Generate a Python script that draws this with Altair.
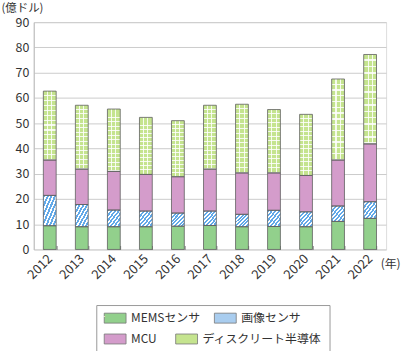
import altair as alt
import pandas as pd

years = ["2012", "2013", "2014", "2015", "2016", "2017", "2018", "2019", "2020", "2021", "2022"]
series = ["MEMSセンサ", "画像センサ", "MCU", "ディスクリート半導体"]
mems = [9.4, 9.0, 9.0, 9.0, 9.2, 9.5, 9.0, 9.1, 9.0, 11.1, 12.3]
image = [12.0, 8.8, 6.6, 6.2, 5.2, 5.7, 4.9, 6.4, 5.9, 6.1, 6.6]
mcu = [14.0, 14.0, 15.3, 14.5, 14.4, 16.6, 16.4, 14.8, 14.4, 18.2, 22.9]
discrete = [27.3, 25.3, 24.7, 22.6, 22.2, 25.3, 27.2, 25.1, 24.2, 32.1, 35.4]
y_ticks = [0, 10, 20, 30, 40, 50, 60, 70, 80, 90]
colors = ["#92d08c", "#a9cdef", "#d49ccb", "#c5e48f"]

rows = []
for i, yr in enumerate(years):
    for k, (name, vals) in enumerate(zip(series, [mems, image, mcu, discrete])):
        rows.append({"year": yr, "series": name, "order": k, "value": vals[i]})
df = pd.DataFrame(rows)

FONT = "Noto Sans CJK JP"
TXT = "#333333"

def stripes(col_a, col_b, n, frac):
    st = []
    for k in range(n):
        a = k / n
        b = (k + frac) / n
        c = (k + 1) / n
        st += [alt.GradientStop(color=col_a, offset=a), alt.GradientStop(color=col_a, offset=b),
               alt.GradientStop(color=col_b, offset=b), alt.GradientStop(color=col_b, offset=c)]
    return st

diag_blue = alt.LinearGradient(gradient="linear", stops=stripes("#62a9e8", "#ffffff", 7, 0.55),
                               x1=0, y1=0, x2=1, y2=1)
clear = "rgba(255,255,255,0)"
white = "rgba(255,255,255,0.85)"
hlines = alt.LinearGradient(gradient="linear", stops=stripes(clear, white, 14, 0.78),
                            x1=0, y1=0, x2=0, y2=1)
vlines = alt.LinearGradient(gradient="linear", stops=[
    alt.GradientStop(color=clear, offset=0), alt.GradientStop(color=clear, offset=0.3),
    alt.GradientStop(color=white, offset=0.3), alt.GradientStop(color=white, offset=0.38),
    alt.GradientStop(color=clear, offset=0.38), alt.GradientStop(color=clear, offset=0.62),
    alt.GradientStop(color=white, offset=0.62), alt.GradientStop(color=white, offset=0.7),
    alt.GradientStop(color=clear, offset=0.7), alt.GradientStop(color=clear, offset=1)],
    x1=0, y1=0, x2=1, y2=0)

stacked = alt.Chart(df).transform_stack(
    stack="value", groupby=["year"], sort=[alt.SortField("order", order="ascending")],
    as_=["y0", "y1"])

xscale = alt.Scale(domain=years, paddingInner=0.6, paddingOuter=0.3)
yscale = alt.Scale(domain=[0, 90], nice=False)

x_main = alt.X("year:N", scale=xscale, sort=years, axis=alt.Axis(
    title="(年)", titleX=349, titleY=18, titleAlign="left", titleBaseline="middle",
    titleAngle=0, titleFontSize=12, titleFontWeight="normal", titleColor=TXT, titleFont=FONT,
    labelAngle=-45, labelAlign="right", labelBaseline="middle", labelFontSize=13,
    labelColor=TXT, labelFont=FONT, labelPadding=7,
    domain=False, ticks=True, tickBand="extent", tickSize=4, tickColor="#777777",
    offset=-4, grid=False))
y_main = alt.Y("y1:Q", scale=yscale, axis=alt.Axis(
    values=y_ticks, title="(億ドル)", titleAngle=0, titleX=-33, titleY=-14,
    titleAlign="left", titleBaseline="middle", titleFontSize=11.5, titleFontWeight="normal",
    titleColor=TXT, titleFont=FONT, labelFontSize=12.5, labelColor=TXT, labelFont=FONT,
    labelPadding=5, ticks=False, domain=True, domainColor="#bbbbbb",
    grid=True, gridColor="#cccccc", gridWidth=1))

sym = dict(symbolType="M-1,-1H3.4V1H-1Z", symbolSize=100, symbolStrokeColor="#777777",
           symbolStrokeWidth=0.8, symbolOpacity=1, labelFontSize=12, labelFont=FONT,
           labelColor=TXT, labelOffset=16, padding=7, labelLimit=300,
           direction="horizontal", orient="none", legendX=63, legendY=285)

legend_a = alt.Legend(title=None, columnPadding=12, **sym)
# second legend row also carries the frame around both rows
legend_b = alt.Legend(title=".", titleOrient="top", titleAnchor="start", titleFontSize=6,
                      titlePadding=15, titleColor="#ffffff",
                      strokeColor="#999999", columnPadding=17, **sym)

base_a = stacked.transform_filter(
    (alt.datum.series == series[0]) | (alt.datum.series == series[1])).mark_bar().encode(
    x=x_main, y=y_main, y2="y0:Q",
    color=alt.Color("series:N", sort=series[:2],
                    scale=alt.Scale(domain=series[:2], range=colors[:2]), legend=legend_a))
base_b = stacked.transform_filter(
    (alt.datum.series == series[2]) | (alt.datum.series == series[3])).mark_bar().encode(
    x=x_main, y=y_main, y2="y0:Q",
    fill=alt.Fill("series:N", sort=series[2:],
                  scale=alt.Scale(domain=series[2:], range=colors[2:]), legend=legend_b))

img_layer = stacked.transform_filter(alt.datum.series == series[1]).mark_bar(
    fill=diag_blue).encode(x=x_main, y=y_main, y2="y0:Q")
disc_h = stacked.transform_filter(alt.datum.series == series[3]).mark_bar(
    fill=hlines).encode(x=x_main, y=y_main, y2="y0:Q")
disc_v = stacked.transform_filter(alt.datum.series == series[3]).mark_bar(
    fill=vlines).encode(x=x_main, y=y_main, y2="y0:Q")

outline = stacked.mark_bar(fillOpacity=0, stroke="#606060", strokeWidth=0.8).encode(
    x=x_main, y=y_main, y2="y0:Q")

chart = alt.layer(base_a, base_b, img_layer, disc_h, disc_v, outline).properties(
    width=355, height=229,
    padding={"left": 1, "top": 1, "right": 0, "bottom": 0},
).configure_view(stroke=None).configure(font=FONT)

chart.save("out.html", embed_options={"renderer": "svg", "actions": False})
